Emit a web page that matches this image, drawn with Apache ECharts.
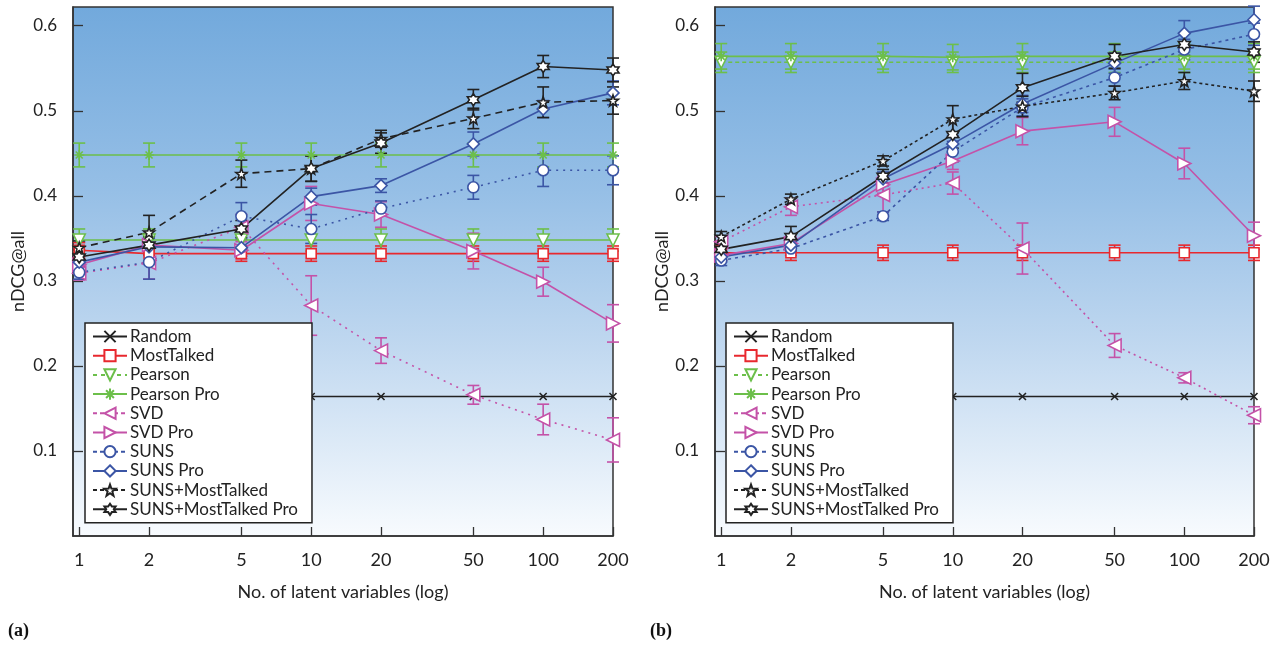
<!DOCTYPE html>
<html>
<head>
<meta charset="utf-8">
<script src="https://cdn.jsdelivr.net/npm/echarts@6/dist/echarts.min.js"></script>
<style>
  html, body { margin: 0; padding: 0; background: #fff; }
  #chart { width: 1288px; height: 645px; }
</style>
</head>
<body>
<div id="chart"></div>
<script>
const latent = [1, 2, 5, 10, 20, 50, 100, 200];
const yTicks = [0.1, 0.2, 0.3, 0.4, 0.5, 0.6];
const methods = ['Random', 'MostTalked', 'Pearson', 'Pearson Pro', 'SVD', 'SVD Pro',
  'SUNS', 'SUNS Pro', 'SUNS+MostTalked', 'SUNS+MostTalked Pro'];

// panel (a): mean nDCG@all and error half-widths
const randomA = [null, 0.164, 0.164, 0.164, 0.164, 0.164, 0.164, 0.164];
const randomErrA = [0, 0, 0, 0, 0, 0, 0, 0];
const mostTalkedA = [0.336, 0.332, 0.332, 0.332, 0.332, 0.332, 0.332, 0.332];
const mostTalkedErrA = [0.009, 0.009, 0.009, 0.009, 0.009, 0.009, 0.009, 0.009];
const pearsonA = [0.348, 0.348, 0.348, 0.348, 0.348, 0.348, 0.348, 0.348];
const pearsonErrA = [0.013, 0.013, 0.013, 0.013, 0.013, 0.013, 0.013, 0.013];
const pearsonProA = [0.448, 0.448, 0.448, 0.448, 0.448, 0.448, 0.448, 0.448];
const pearsonProErrA = [0.014, 0.014, 0.014, 0.014, 0.014, 0.014, 0.014, 0.014];
const svdA = [0.309, 0.321, 0.363, 0.271, 0.218, 0.166, 0.137, 0.113];
const svdErrA = [0.008, 0.019, 0.015, 0.035, 0.015, 0.011, 0.018, 0.026];
const svdProA = [0.319, 0.342, 0.336, 0.391, 0.378, 0.335, 0.299, 0.250];
const svdProErrA = [0.01, 0.01, 0.01, 0.02, 0.015, 0.021, 0.017, 0.022];
const sunsA = [0.310, 0.322, 0.376, 0.361, 0.385, 0.410, 0.430, 0.430];
const sunsErrA = [0.008, 0.02, 0.016, 0.017, 0.009, 0.014, 0.019, 0.017];
const sunsProA = [0.322, 0.340, 0.339, 0.399, 0.412, 0.461, 0.502, 0.521];
const sunsProErrA = [0.008, 0.01, 0.01, 0.01, 0.008, 0.014, 0.01, 0.014];
const sunsMtA = [0.339, 0.357, 0.426, 0.432, 0.467, 0.491, 0.510, 0.512];
const sunsMtErrA = [0.008, 0.02, 0.016, 0.015, 0.01, 0.012, 0.018, 0.016];
const sunsMtProA = [0.328, 0.342, 0.361, 0.432, 0.462, 0.513, 0.552, 0.548];
const sunsMtProErrA = [0.008, 0.01, 0.01, 0.015, 0.012, 0.012, 0.013, 0.014];

// panel (b)
const randomB = [null, 0.164, 0.164, 0.164, 0.164, 0.164, 0.164, 0.164];
const randomErrB = [0, 0, 0, 0, 0, 0, 0, 0];
const mostTalkedB = [0.333, 0.333, 0.333, 0.333, 0.333, 0.333, 0.333, 0.333];
const mostTalkedErrB = [0.009, 0.009, 0.009, 0.009, 0.009, 0.009, 0.009, 0.009];
const pearsonB = [0.557, 0.557, 0.557, 0.557, 0.557, 0.557, 0.557, 0.557];
const pearsonErrB = [0.012, 0.012, 0.012, 0.012, 0.012, 0.012, 0.012, 0.012];
const pearsonProB = [0.564, 0.564, 0.564, 0.563, 0.564, 0.564, 0.564, 0.564];
const pearsonProErrB = [0.015, 0.015, 0.015, 0.015, 0.015, 0.015, 0.015, 0.015];
const svdB = [0.346, 0.387, 0.401, 0.415, 0.338, 0.224, 0.186, 0.142];
const svdErrB = [0.006, 0.01, 0.02, 0.013, 0.03, 0.014, 0.006, 0.01];
const svdProB = [0.330, 0.344, 0.413, 0.441, 0.476, 0.487, 0.438, 0.353];
const svdProErrB = [0.006, 0.008, 0.01, 0.01, 0.016, 0.017, 0.018, 0.016];
const sunsB = [0.324, 0.338, 0.376, 0.452, 0.504, 0.539, 0.572, 0.590];
const sunsErrB = [0.006, 0.008, 0.005, 0.012, 0.01, 0.01, 0.012, 0.013];
const sunsProB = [0.328, 0.342, 0.420, 0.461, 0.508, 0.556, 0.591, 0.607];
const sunsProErrB = [0.006, 0.008, 0.008, 0.01, 0.01, 0.012, 0.015, 0.016];
const sunsMtB = [0.352, 0.396, 0.441, 0.490, 0.505, 0.521, 0.535, 0.523];
const sunsMtErrB = [0.006, 0.006, 0.006, 0.016, 0.012, 0.008, 0.01, 0.012];
const sunsMtProB = [0.337, 0.352, 0.423, 0.472, 0.527, 0.564, 0.578, 0.569];
const sunsMtProErrB = [0.006, 0.012, 0.008, 0.016, 0.017, 0.014, 0.013, 0.012];

const meansA = [randomA, mostTalkedA, pearsonA, pearsonProA, svdA, svdProA, sunsA, sunsProA, sunsMtA, sunsMtProA];
const errsA = [randomErrA, mostTalkedErrA, pearsonErrA, pearsonProErrA, svdErrA, svdProErrA, sunsErrA, sunsProErrA, sunsMtErrA, sunsMtProErrA];
const meansB = [randomB, mostTalkedB, pearsonB, pearsonProB, svdB, svdProB, sunsB, sunsProB, sunsMtB, sunsMtProB];
const errsB = [randomErrB, mostTalkedErrB, pearsonErrB, pearsonProErrB, svdErrB, svdProErrB, sunsErrB, sunsProErrB, sunsMtErrB, sunsMtProErrB];

const FONT = 'Lato';
const BLACK = '#222222', RED = '#e8282e', GREEN = '#6cbf4a', MAGENTA = '#c452a8', BLUE = '#3b55a5';

const looks = [
  { color: BLACK, symbol: 'path://M0,0L10,10M10,0L0,10', size: 7 },
  { color: RED, symbol: 'rect', size: 10 },
  { color: GREEN, symbol: 'path://M0,0L10,0L5,9Z', size: 12 },
  { color: GREEN, symbol: 'path://M5,0L5,10M0,5L10,5M1.5,1.5L8.5,8.5M8.5,1.5L1.5,8.5', size: 10 },
  { color: MAGENTA, symbol: 'path://M0,5L9,0L9,10Z', size: 13 },
  { color: MAGENTA, symbol: 'path://M9,5L0,0L0,10Z', size: 13 },
  { color: BLUE, symbol: 'circle', size: 11 },
  { color: BLUE, symbol: 'diamond', size: 12 },
  { color: BLACK, symbol: 'path://M5,0L6.2,3.4L9.8,3.5L7,5.7L8,9.2L5,7.1L2,9.2L3,5.7L0.2,3.5L3.8,3.4Z', size: 11 },
  { color: BLACK, symbol: 'path://M5,0L6.45,2.49L9.33,2.5L7.9,5L9.33,7.5L6.45,7.51L5,10L3.55,7.51L0.67,7.5L2.1,5L0.67,2.5L3.55,2.49Z', size: 12 }
];
const dashA = ['solid', 'solid', 'solid', 'solid', [2, 5], 'solid', [2, 5], 'solid', [7, 5], 'solid'];
const dashB = ['solid', 'solid', [4, 3], 'solid', [2, 4], 'solid', [3, 4], 'solid', [3, 3], 'solid'];
const dashLegend = ['solid', 'solid', [4, 4], 'solid', [4, 3], 'solid', [4, 3], 'solid', [4, 3], 'solid'];

function renderErr(params, api) {
  const x = api.value(0);
  const lo = api.coord([x, api.value(1)]);
  const hi = api.coord([x, api.value(2)]);
  const w = 6;
  const st = { stroke: api.visual('color'), lineWidth: 1.6 };
  return {
    type: 'group',
    children: [
      { type: 'line', shape: { x1: lo[0], y1: lo[1], x2: hi[0], y2: hi[1] }, style: st },
      { type: 'line', shape: { x1: lo[0] - w, y1: lo[1], x2: lo[0] + w, y2: lo[1] }, style: st },
      { type: 'line', shape: { x1: hi[0] - w, y1: hi[1], x2: hi[0] + w, y2: hi[1] }, style: st }
    ]
  };
}

const series = [];
function addPanel(idx, means, errs, dashes) {
  methods.forEach((name, i) => {
    const lk = looks[i];
    const m = means[i], e = errs[i];
    if (e.some(v => v > 0)) {
      series.push({
        type: 'custom', name: name + ' err' + idx,
        xAxisIndex: idx, yAxisIndex: idx,
        itemStyle: { color: lk.color },
        renderItem: renderErr,
        clip: false, silent: true, z: 2,
        data: latent.map((x, j) => m[j] == null ? null : [x, m[j] - e[j], m[j] + e[j]])
      });
    }
    series.push({
      type: 'line', name: name,
      xAxisIndex: idx, yAxisIndex: idx,
      data: latent.map((x, j) => [x, m[j]]),
      symbol: lk.symbol, symbolSize: lk.size, showSymbol: true,
      itemStyle: { color: '#fff', borderColor: lk.color, borderWidth: 1.6 },
      lineStyle: { color: lk.color, width: 1.6, type: dashes[i] },
      clip: false, z: 3,
      emphasis: { disabled: true }
    });
  });
}
addPanel(0, meansA, errsA, dashA);
addPanel(1, meansB, errsB, dashB);

const bg = {
  type: 'linear', x: 0, y: 0, x2: 0, y2: 1,
  colorStops: [
    { offset: 0, color: '#72a9dc' },
    { offset: 0.35, color: '#96bfe6' },
    { offset: 0.62, color: '#bdd6ef' },
    { offset: 1, color: '#f8fbfe' }
  ]
};

function xAx(idx) {
  return {
    type: 'log', gridIndex: idx, min: 0.94, max: 200, logBase: 10,
    axisLine: { show: true, onZero: false, lineStyle: { color: '#333', width: 1.5 } },
    axisTick: { show: true, inside: true, length: 9, customValues: latent, lineStyle: { color: '#333', width: 1.3 } },
    axisLabel: { customValues: latent, margin: 15, fontSize: 18, color: '#222', fontFamily: FONT },
    splitLine: { show: false }, minorTick: { show: false },
    name: 'No. of latent variables (log)', nameLocation: 'middle', nameGap: 47,
    nameTextStyle: { fontSize: 18, color: '#222', fontFamily: FONT }
  };
}
function yAx(idx, gap) {
  return {
    type: 'value', gridIndex: idx, min: 0, max: 0.622,
    axisLine: { show: true, lineStyle: { color: '#333', width: 1.5 } },
    axisTick: { show: true, inside: true, length: 10, customValues: yTicks, lineStyle: { color: '#333', width: 1.3 } },
    axisLabel: { customValues: yTicks, formatter: v => v.toFixed(1), margin: 16, fontSize: 17, color: '#222', fontFamily: FONT },
    splitLine: { show: false },
    name: 'nDCG@all', nameLocation: 'middle', nameGap: gap,
    nameTextStyle: { fontSize: 18, color: '#222', fontFamily: FONT }
  };
}
function legendAt(left) {
  return {
    orient: 'vertical', left: left, top: 323,
    data: methods.map((n, i) => ({ name: n, lineStyle: { type: dashLegend[i] } })),
    itemWidth: 34, itemHeight: 14, itemGap: 2.2,
    padding: [5, 14, 5, 7],
    backgroundColor: '#fff', borderColor: '#222', borderWidth: 1.5, borderRadius: 0,
    textStyle: { fontSize: 17, lineHeight: 17, color: '#222', fontFamily: FONT, padding: [0, 0, 0, -2] },
    selectedMode: false
  };
}

const chart = echarts.init(document.getElementById('chart'), null, { renderer: 'canvas' });
chart.setOption({
  animation: false,
  backgroundColor: '#fff',
  textStyle: { fontFamily: FONT },
  grid: [
    { left: 73, top: 7, width: 540, height: 529, show: true, backgroundColor: bg, borderColor: '#333', borderWidth: 1.5 },
    { left: 715, top: 7, width: 539, height: 529, show: true, backgroundColor: bg, borderColor: '#333', borderWidth: 1.5 }
  ],
  xAxis: [xAx(0), xAx(1)],
  yAxis: [yAx(0, 46), yAx(1, 44)],
  legend: [legendAt(85), legendAt(726)],
  graphic: [
    { type: 'text', left: 8, top: 622, style: { text: '(a)', font: 'bold 18px "Liberation Serif"', fill: '#111' } },
    { type: 'text', left: 650, top: 622, style: { text: '(b)', font: 'bold 18px "Liberation Serif"', fill: '#111' } }
  ],
  series: series
});
</script>
</body>
</html>
